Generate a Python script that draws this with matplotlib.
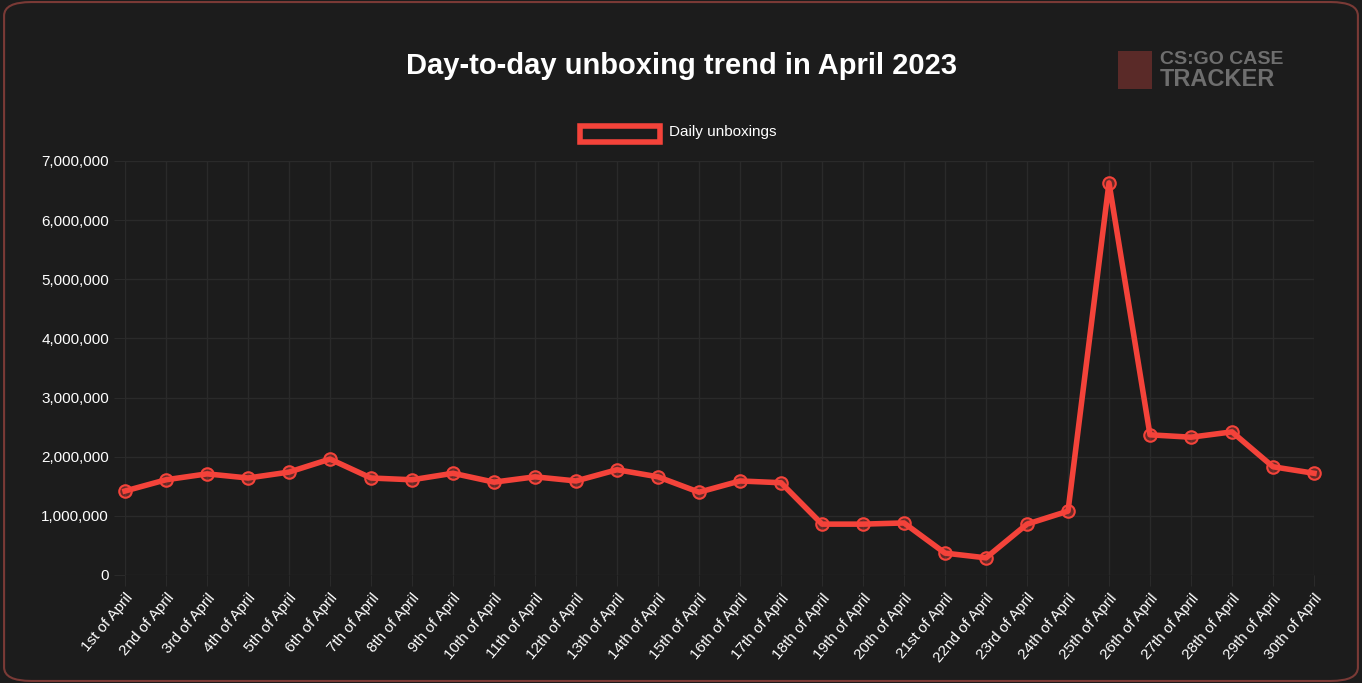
import matplotlib
matplotlib.use("Agg")
import matplotlib.pyplot as plt
from matplotlib.ticker import FuncFormatter, MultipleLocator
from matplotlib.patches import FancyBboxPatch, Rectangle

plt.rcParams['font.family'] = ['Liberation Sans', 'DejaVu Sans']

def ordinal(n):
    if 10 <= n % 100 <= 20: s = "th"
    else: s = {1: "st", 2: "nd", 3: "rd"}.get(n % 10, "th")
    return f"{n}{s} of April"

days = [ordinal(i) for i in range(1, 31)]
unboxings = [1.42e6, 1.61e6, 1.71e6, 1.64e6, 1.74e6, 1.96e6, 1.64e6, 1.61e6, 1.72e6, 1.57e6,
             1.66e6, 1.59e6, 1.78e6, 1.66e6, 1.40e6, 1.59e6, 1.56e6, 0.86e6, 0.86e6, 0.88e6,
             0.37e6, 0.29e6, 0.86e6, 1.08e6, 6.63e6, 2.37e6, 2.33e6, 2.42e6, 1.83e6, 1.72e6]

W, H = 1362, 683
bg = "#1c1c1c"
fig = plt.figure(figsize=(W/100, H/100), dpi=100, facecolor=bg)
fig.patches.append(FancyBboxPatch((0.003, 0.003), 0.994, 0.994, boxstyle="round,pad=0,rounding_size=0.02",
                                  transform=fig.transFigure, facecolor="none", edgecolor="#7a3a36",
                                  lw=1.5, zorder=-10))
ax = fig.add_axes([125/W, 1-575/H, (1314-125)/W, (575-161)/H])
ax.set_facecolor(bg)
ax.set_zorder(5)
red = "#f4433a"
x = list(range(len(days)))
ax.plot(x, unboxings, color=red, lw=4, marker="o", ms=9, mfc=(0.96, 0.26, 0.23, 0.35),
        mec=red, mew=1.5, zorder=3, clip_on=False)
ax.set_xlim(0, len(days)-1)
ax.set_ylim(0, 7e6)
ax.yaxis.set_major_locator(MultipleLocator(1e6))
ax.yaxis.set_major_formatter(FuncFormatter(lambda v, p: f"{int(v):,}"))
ax.set_xticks(x)
ax.set_xticklabels(days, rotation=50, ha="right", rotation_mode="anchor", fontsize=11, color="white")
ax.tick_params(axis="y", colors="white", labelsize=11, length=8, color="#2a2a2a")
ax.tick_params(axis="x", length=8, color="#2a2a2a")
ax.grid(True, color="#2a2a2a", lw=1)
for s in ax.spines.values():
    s.set_visible(False)
fig.text(681/W, 1-66/H, "Day-to-day unboxing trend in April 2023", ha="center", va="center",
         color="white", fontsize=21, fontweight="bold")
fig.patches.append(Rectangle((580/W, 1-142/H), 80/W, 16/H, transform=fig.transFigure,
                             facecolor=bg, edgecolor=red, lw=4))
fig.text(669/W, 1-132/H, "Daily unboxings", color="white", fontsize=11, va="center")
# logo
fig.patches.append(Rectangle((1118/W, 1-89/H), 34/W, 38/H, transform=fig.transFigure,
                             facecolor="#5a2a28", edgecolor="none"))
fig.text(1160/W, 1-60/H, "CS:GO CASE", color="#6e6e6e", fontsize=14, fontweight="bold", va="center")
fig.text(1160/W, 1-79/H, "TRACKER", color="#6e6e6e", fontsize=17, fontweight="bold", va="center")
fig.savefig("out.png", dpi=100, facecolor=fig.get_facecolor())
